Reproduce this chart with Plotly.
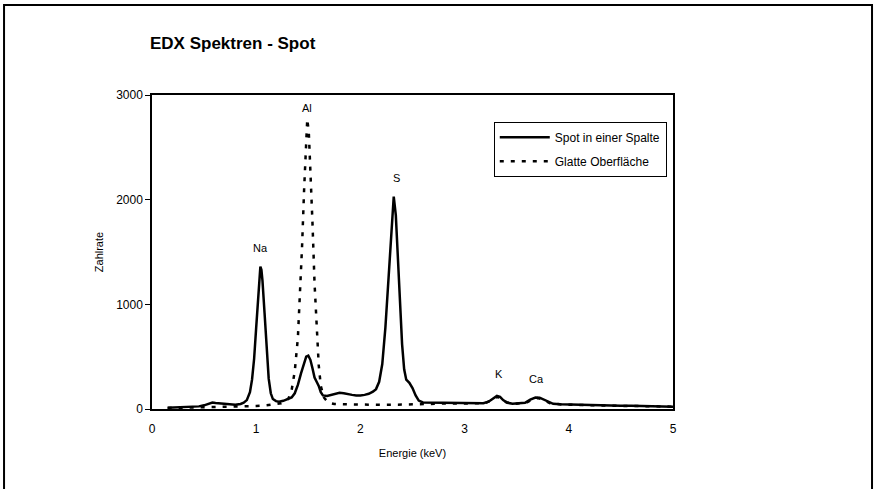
import plotly.graph_objects as go

# EDX spectrum: spot inside a gap (solid line)
energy_spalte = [0.15, 0.20, 0.25, 0.30, 0.35, 0.40, 0.45, 0.50, 0.55, 0.58,
                 0.61, 0.64, 0.67, 0.70, 0.75, 0.80, 0.85, 0.88, 0.91, 0.94,
                 0.96, 0.98, 1.00, 1.02, 1.03, 1.04, 1.05, 1.06, 1.08, 1.10,
                 1.12, 1.14, 1.16, 1.19, 1.22, 1.26, 1.30, 1.34, 1.37, 1.40,
                 1.43, 1.46, 1.48, 1.50, 1.52, 1.54, 1.56, 1.58, 1.60, 1.62,
                 1.64, 1.68, 1.72, 1.76, 1.80, 1.84, 1.88, 1.92, 1.96, 2.00,
                 2.04, 2.08, 2.12, 2.15, 2.18, 2.21, 2.24, 2.27, 2.30, 2.32,
                 2.34, 2.36, 2.38, 2.40, 2.42, 2.44, 2.47, 2.50, 2.53, 2.56,
                 2.60, 2.70, 2.80, 2.90, 3.00, 3.10, 3.18, 3.23, 3.27, 3.31,
                 3.34, 3.37, 3.41, 3.46, 3.52, 3.58, 3.63, 3.68, 3.72, 3.76,
                 3.80, 3.85, 3.92, 4.00, 4.10, 4.20, 4.30, 4.40, 4.50, 4.60,
                 4.70, 4.80, 4.90, 5.00]
counts_spalte = [12, 15, 14, 18, 17, 22, 25, 35, 55, 62,
                 58, 55, 48, 50, 45, 40, 48, 60, 85, 160,
                 280, 480, 780, 1120, 1280, 1360, 1330, 1230, 920, 560,
                 290, 150, 95, 75, 70, 78, 95, 110, 150, 230,
                 340, 450, 500, 510, 470, 390, 300, 260, 220, 160,
                 130, 125, 135, 140, 155, 150, 140, 135, 130, 128,
                 135, 145, 165, 190, 260, 430, 780, 1280, 1800, 2030,
                 1850, 1420, 1000, 620, 380, 280, 250, 200, 130, 80,
                 62, 60, 58, 55, 55, 52, 55, 70, 100, 125,
                 115, 85, 60, 50, 55, 60, 90, 110, 108, 90,
                 65, 50, 45, 42, 40, 38, 35, 33, 30, 32,
                 28, 27, 25, 22]

# EDX spectrum: smooth surface (dashed line)
energy_glatt = [0.15, 0.30, 0.45, 0.60, 0.75, 0.90, 1.00, 1.10, 1.18, 1.24,
                1.28, 1.31, 1.34, 1.37, 1.40, 1.42, 1.44, 1.46, 1.475, 1.49,
                1.505, 1.52, 1.54, 1.56, 1.58, 1.60, 1.62, 1.65, 1.69, 1.75,
                1.85, 2.00, 2.20, 2.40, 2.60, 2.80, 3.00, 3.20, 3.27, 3.31,
                3.35, 3.40, 3.50, 3.60, 3.66, 3.70, 3.75, 3.82, 3.95, 4.20,
                4.50, 4.80, 5.00]
counts_glatt = [10, 12, 15, 18, 20, 25, 28, 35, 45, 55,
                70, 100, 180, 360, 680, 1050, 1550, 2100, 2520, 2770,
                2640, 2300, 1780, 1200, 740, 420, 220, 110, 62, 48,
                45, 42, 40, 42, 48, 52, 52, 58, 90, 115,
                105, 65, 50, 65, 95, 105, 90, 55, 42, 35,
                30, 26, 22]

# Element peak labels: (label, energy, counts)
peak_labels = ["Na", "Al", "S", "K", "Ca"]
peak_energy = [1.04, 1.485, 2.35, 3.33, 3.69]
peak_counts = [1360, 2770, 2030, 125, 110]
peak_offset = [100, 30, 100, 130, 100]

FONT = "Liberation Sans, Arial, sans-serif"

fig = go.Figure()
fig.add_trace(go.Scatter(
    x=energy_spalte, y=counts_spalte, mode="lines",
    name="Spot in einer Spalte", legendgroup="a",
    line=dict(color="black", width=2.5),
))
fig.add_trace(go.Scatter(
    x=energy_glatt, y=counts_glatt, mode="lines",
    name="Glatte Oberfläche", legendgroup="b",
    line=dict(color="black", width=2.5, dash="4px,7px"),
))

for lab, e, c, off in zip(peak_labels, peak_energy, peak_counts, peak_offset):
    fig.add_annotation(x=e, y=c + off, text=lab, showarrow=False,
                       yanchor="bottom", font=dict(size=11, color="black", family=FONT))

# Outer chart frame
fig.add_shape(type="rect", xref="paper", yref="paper",
              x0=-0.284, x1=1.382, y0=-0.30, y1=1.287,
              line=dict(color="black", width=2), layer="below")

fig.update_layout(
    width=876, height=489,
    margin=dict(l=152, r=203, t=95, b=80),
    paper_bgcolor="white", plot_bgcolor="white",
    font=dict(family=FONT, color="black", size=11),
    title=dict(text="<b>EDX Spektren - Spot</b>", x=150 / 876, xanchor="left",
               y=1 - 43 / 489, yanchor="middle", font=dict(size=17, family=FONT)),
    legend=dict(x=0.656, y=0.915, xanchor="left", yanchor="top",
                bordercolor="black", borderwidth=1, bgcolor="white",
                font=dict(size=12, family=FONT), tracegroupgap=5,
                itemwidth=50),
    showlegend=True,
)

fig.update_xaxes(range=[0, 5], dtick=1, showgrid=False, zeroline=False,
                 showline=True, linecolor="black", linewidth=1.5, mirror=True,
                 ticks="", ticklabelstandoff=8,
                 tickfont=dict(size=12, family=FONT),
                 title=dict(text="Energie (keV)", standoff=14,
                            font=dict(size=11, family=FONT)))
fig.update_yaxes(range=[0, 3000], tickvals=[0, 1000, 2000, 3000],
                 showgrid=False, zeroline=False,
                 showline=True, linecolor="black", linewidth=1.5, mirror=True,
                 ticks="outside", ticklen=5, tickcolor="black",
                 tickfont=dict(size=12, family=FONT),
                 title=dict(text="Zahlrate", standoff=10,
                            font=dict(size=11, family=FONT)))

fig.write_html("out.html")
